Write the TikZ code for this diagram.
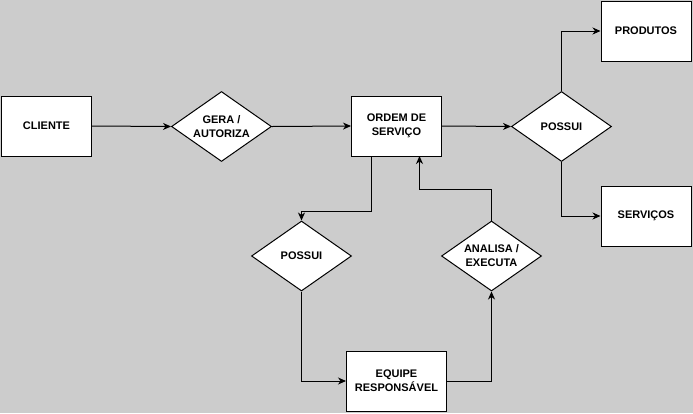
\documentclass[tikz,border=0pt]{standalone}
\usepackage{fontspec}
\setmainfont{Liberation Sans}
\usetikzlibrary{shapes.geometric,arrows.meta}
\definecolor{bg}{HTML}{CCCCCC}
\begin{document}
\begin{tikzpicture}[x=1pt,y=-1pt,
  box/.style={draw=black,fill=white,line width=1pt,minimum width=90pt,minimum height=60pt,inner sep=0pt,align=center,font=\fontsize{11}{14}\selectfont\bfseries},
  wbox/.style={box,minimum width=100pt},
  dia/.style={draw=black,fill=white,line width=1pt,diamond,aspect=1.43,minimum width=100pt,minimum height=70pt,inner sep=0pt,align=center,font=\fontsize{11}{14}\selectfont\bfseries},
  conn/.style={draw=black,line width=1pt,-{Stealth[length=8pt,width=7pt,inset=2.5pt]}}]
\fill[bg] (0,0) rectangle (693,413);
\useasboundingbox (0,0) rectangle (693,413);
\node[box] (cliente) at (46.5,126) {CLIENTE};
\node[dia] (gera) at (221.5,126.5) {GERA /\\AUTORIZA};
\node[box] (ordem) at (396.5,126) {ORDEM DE\\SERVIÇO};
\node[dia] (possui1) at (561.5,126.5) {POSSUI};
\node[box] (produtos) at (646,31) {PRODUTOS};
\node[box] (servicos) at (646,216) {SERVIÇOS};
\node[dia] (possui2) at (301.5,256) {POSSUI};
\node[dia] (analisa) at (491.5,256) {ANALISA /\\EXECUTA};
\node[wbox] (equipe) at (396.5,381) {EQUIPE\\RESPONSÁVEL};
\coordinate (o1) at (371.5,156);
\coordinate (o2) at (419.5,156);
\draw[conn] (cliente.east) -- (gera.west);
\draw[conn] (gera.east) -- (ordem.west);
\draw[conn] (ordem.east) -- (possui1.west);
\draw[conn] (possui1.north) |- (produtos.west);
\draw[conn] (possui1.south) |- (servicos.west);
\draw[conn] (o1) -- (371.5,211) -| (possui2.north);
\draw[conn] (possui2.south) |- (equipe.west);
\draw[conn] (equipe.east) -| (analisa.south);
\draw[conn] (analisa.north) -- (491.5,189) -| (o2);
\end{tikzpicture}
\end{document}
